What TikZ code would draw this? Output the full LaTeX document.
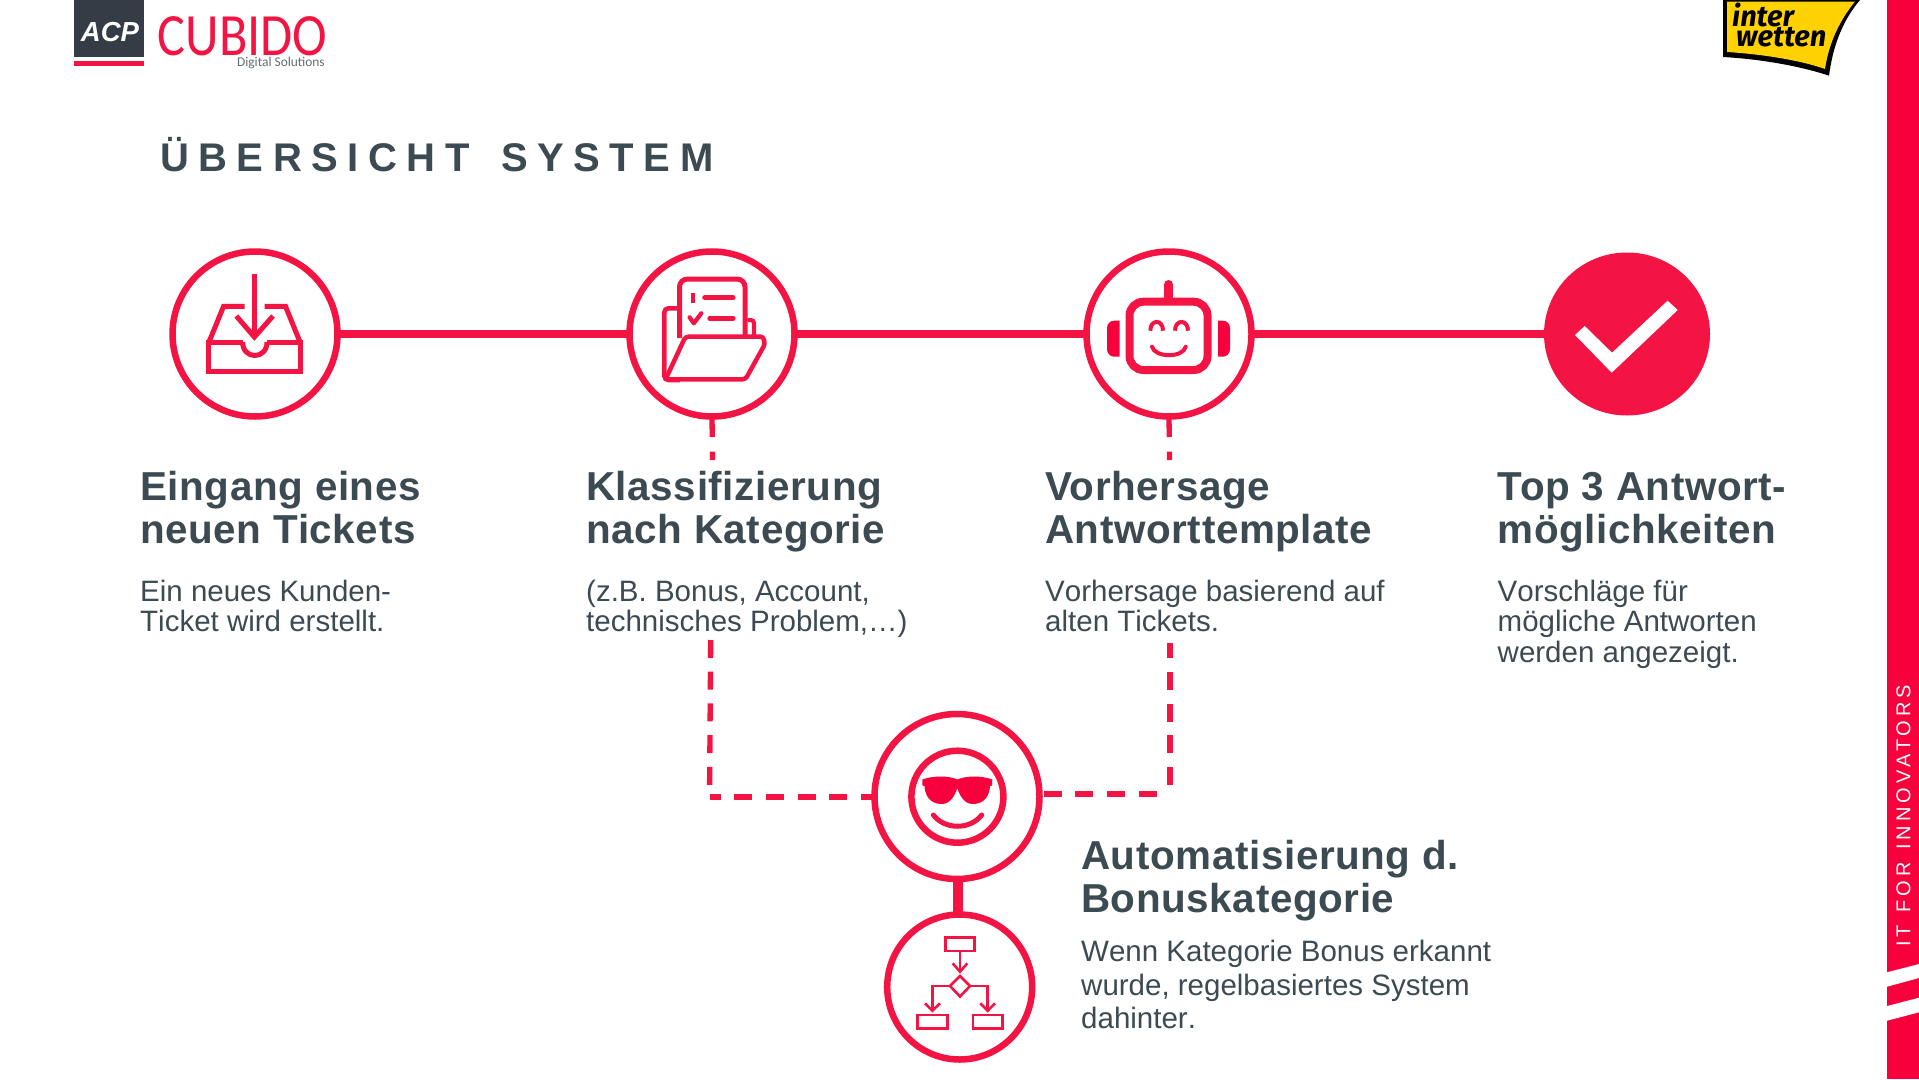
\documentclass[tikz,border=0pt]{standalone}
\usepackage{fontspec}
\usetikzlibrary{shapes.geometric}
\setmainfont{Liberation Sans}
\newfontfamily\lgfont{Carlito}
\newfontfamily\lgfontb{Fira Sans}
\definecolor{acred}{HTML}{F41444}
\definecolor{bandred}{HTML}{F8003C}
\definecolor{slate}{HTML}{3C4A52}
\definecolor{boxdark}{HTML}{343D46}
\definecolor{ywyellow}{HTML}{FFD200}
\tikzset{
  ring/.style={circle,draw=acred,line width=6.5pt,fill=white,inner sep=0pt,outer sep=0pt,minimum size=165pt},
  ringsmall/.style={circle,draw=acred,line width=6.5pt,fill=white,inner sep=0pt,outer sep=0pt,minimum size=145pt},
  donedisc/.style={ellipse,fill=acred,inner sep=0pt,outer sep=0pt,minimum width=166pt,minimum height=163pt},
  solidlink/.style={draw=acred,line width=7.5pt},
  dashlink/.style={draw=acred,line width=5.3pt,dash pattern=on 18pt off 13.7pt},
  stublink/.style={draw=acred,line width=5.3pt,dash pattern=on 20.5pt off 14.7pt},
  headtxt/.style={anchor=north west,inner sep=0pt,align=left,text=slate,font=\fontsize{40.4}{43}\selectfont\bfseries\addfontfeature{LetterSpace=1.5}},
  bodytxt/.style={anchor=north west,inner sep=0pt,align=left,text=slate,font=\fontsize{29.5}{30.8}\selectfont\addfontfeature{Kerning=Off}},
  icon/.style={draw=acred,line width=5pt,fill=none},
  iconthin/.style={draw=acred,line width=2.6pt,fill=none},
}
\begin{document}
\begin{tikzpicture}[x=1pt,y=-1pt]
\useasboundingbox (0,0) rectangle (1919,1079);
\fill[white] (0,0) rectangle (1919,1079);
% right band
\fill[bandred] (1887,0) rectangle (1919,1079);
\fill[white] (1887,972.3) -- (1919,964) -- (1919,978) -- (1887,986.7) -- cycle;
\fill[white] (1887,1006) -- (1919,997.7) -- (1919,1012.3) -- (1887,1020.7) -- cycle;
\node[rotate=90,anchor=west,inner sep=0pt,text=white,font=\fontsize{20}{20}\selectfont\addfontfeature{LetterSpace=20}] (band) at (1903.5,947) {IT\hspace{3pt} FOR\hspace{3pt} INNOVATORS};
% ACP logo
\fill[boxdark] (74.3,0) rectangle (143.7,56.7);
\fill[acred] (74.3,60.7) rectangle (143.7,65.7);
\node[text=white,inner sep=0pt,font=\fontsize{27.5}{28}\selectfont\bfseries\itshape] (acp) at (110,32) {ACP};
\node[text=acred,inner sep=0pt,anchor=base west,text depth=0pt,font=\lgfont\fontsize{60}{60}\selectfont] (cubido) at (157.5,55) {\scalebox{0.87}[1]{CUBIDO}};
\node[text=slate!80,inner sep=0pt,anchor=base east,text height=9pt,font=\lgfont\fontsize{13.4}{14}\selectfont] (digital) at (325,66) {Digital Solutions};
% interwetten logo
\fill[black] (1723,0) -- (1723,57) .. controls (1760,59) and (1800,66) .. (1829,75.7) .. controls (1833,45) and (1843,20) .. (1860,0) -- cycle;
\fill[ywyellow] (1727,1.5) -- (1727,52) .. controls (1760,54) and (1800,60) .. (1825,69) .. controls (1829,42) and (1840,20) .. (1855,1.5) -- cycle;
\node[text=black,inner sep=0pt,anchor=base west,text depth=0pt,font=\lgfontb\fontsize{29}{29}\selectfont\bfseries\itshape] (inter) at (1732,26) {inter};
\node[text=black,inner sep=0pt,anchor=base west,text height=18pt,font=\lgfontb\fontsize{29}{29}\selectfont\bfseries\itshape] (wetten) at (1736,46) {wetten};
% title
\node[anchor=base west,inner sep=0pt,text=slate,font=\fontsize{40}{40}\selectfont\bfseries\addfontfeature{LetterSpace=23.8}] (title) at (160,171) {ÜBERSICHT\hspace{11pt} SYSTEM};
% connector free ends
\coordinate (d2a) at (712.5,460);
\coordinate (d2b) at (710.7,640);
\coordinate (d2c) at (709.5,797);
\coordinate (d3a) at (1169.5,460);
\coordinate (d3b) at (1170,643);
\coordinate (d3c) at (1170,794);
% circles
\node[ring] (c1) at (255,334) {};
\node[ring] (c2) at (712,334) {};
\node[ring] (c3) at (1169,334) {};
\node[donedisc] (c4) at (1627,334) {};
\node[ring] (c5) at (957,796.5) {};
\node[ringsmall] (c6) at (959.7,987) {};
\draw[solidlink] (c1) -- (c2);
\draw[solidlink] (c2) -- (c3);
\draw[solidlink] (c3) -- (c4);
\draw[solidlink,line width=9.5pt] ([xshift=1pt]c5.south) -- ([xshift=-1.7pt]c6.north);
\draw[stublink] (c2.south) -- (d2a);
\draw[stublink] (c3.south) -- (d3a);
\draw[dashlink] (d2b) -- (d2c);
\draw[dashlink,dash phase=7pt] (d2c) -- (c5.west |- d2c);
\draw[dashlink,dash phase=2.7pt] (d3b) -- (d3c);
\draw[dashlink,dash phase=18.4pt] (d3c) -- (c5.east |- d3c);
% inbox icon
\draw[icon,line cap=butt] (254.4,274) -- (254.4,334);
\draw[icon,miter limit=6] (236.3,316) -- (254.4,337) -- (273,316);
\draw[icon] (244.7,306.3) -- (223.6,306.3) -- (209,342);
\draw[icon] (264.5,306.3) -- (285.5,306.3) -- (300,342);
\draw[icon] (242.6,342) -- (208.5,342) -- (208.5,371.5) -- (300.5,371.5) -- (300.5,342) -- (267,342);
\draw[icon] (242.6,342) .. controls (242.6,360) and (267,360) .. (267,342);
% folder icon
\draw[icon,line width=4.5pt,rounded corners=4pt] (677.4,308.3) -- (664.3,308.3) -- (664.3,380) -- (680,380);
\draw[icon,line width=4pt,rounded corners=3pt] (747.6,320) -- (754,320) -- (754,337);
\draw[icon,rounded corners=8pt] (679.5,338) -- (679.5,279) -- (745,279) -- (745,338);
\fill[acred] (690.5,292.5) rectangle (695,302.5);
\draw[icon,line cap=round,line width=5pt] (704.7,297.7) -- (733,297.7);
\draw[icon,line cap=round,line join=round,line width=4.2pt] (689.6,317.3) -- (693.8,323.3) -- (701.3,313.3);
\draw[icon,line cap=round] (709.8,318.3) -- (733,318.3);
\draw[icon,line width=4.5pt,line join=round,rounded corners=3pt] (685.4,336.7) -- (763,336.5) -- (765,344) -- (745.5,379.3) -- (665.6,379.3) -- cycle;
% robot icon
\draw[icon,line width=8pt,rounded corners=14pt] (1129.5,301.7) rectangle (1207.5,370);
\draw[icon,line width=9pt,line cap=round] (1168.5,297) -- (1168.5,284.5);
\fill[bandred] (1119.7,320.7) -- (1119.7,356.7) -- (1114,356.7) .. controls (1110,356.7) and (1107,353) .. (1107,349) -- (1107,328) .. controls (1107,324) and (1110,320.7) .. (1114,320.7) -- cycle;
\fill[bandred] (1218,320.7) -- (1218,356.7) -- (1223,356.7) .. controls (1227,356.7) and (1230,353) .. (1230,349) -- (1230,328) .. controls (1230,324) and (1227,320.7) .. (1223,320.7) -- cycle;
\draw[icon,line width=4pt] (1150.3,330.7) .. controls (1150.3,319) and (1163,319) .. (1163,330.7);
\draw[icon,line width=4pt] (1175,330.7) .. controls (1175,319) and (1188,319) .. (1188,330.7);
\draw[icon,line width=4pt,line cap=round] (1152,346.7) .. controls (1155,358) and (1183,358) .. (1185.7,346.7);
% check
\fill[white] (1575,335) -- (1584.7,326) -- (1612,352.7) -- (1667.6,300.7) -- (1677.7,310) -- (1611.7,372.7) -- cycle;
% smiley
\node[circle,draw=acred,line width=6.5pt,inner sep=0pt,outer sep=0pt,minimum size=92pt] (face) at (957.4,796.7) {};
\draw[icon,line cap=round] (933.3,815) .. controls (945,830) and (970,830) .. (981.7,815);
\fill[bandred] (922.3,779.5) .. controls (935,775) and (950,776) .. (957.3,779.5) .. controls (965,776) and (980,775) .. (992.3,779.5) -- (992,785.5) -- (990,786) .. controls (989,801) and (979.5,804) .. (972.5,804) .. controls (964.5,804) and (959.5,795.5) .. (957.3,788) .. controls (955,795.5) and (950,804) .. (942,804) .. controls (935,804) and (925.5,801) .. (924.5,786) -- (922.5,785.5) -- cycle;
% flow icon
\draw[iconthin] (945.3,937.5) rectangle (974.7,951);
\draw[iconthin] (960,951) -- (960,971);
\draw[iconthin] (952.7,963.3) -- (960,971.7) -- (967.3,963.3);
\draw[iconthin] (960,976) -- (970,986) -- (960,996.5) -- (950,986) -- cycle;
\draw[iconthin] (950,986) -- (932.3,986) -- (932.3,1010);
\draw[iconthin] (925,1003.3) -- (932.3,1010.7) -- (940,1003.3);
\draw[iconthin] (970,986) -- (987.7,986) -- (987.7,1010);
\draw[iconthin] (980.3,1003.3) -- (987.7,1010.7) -- (995,1003.3);
\draw[iconthin] (917.7,1015) rectangle (947.3,1028.5);
\draw[iconthin] (973,1015) rectangle (1002.3,1028.5);
% text
\node[headtxt] (h1) at (140,471.5) {Eingang eines\\neuen Tickets};
\node[bodytxt] (b1) at (140,579.5) {Ein neues Kunden-\\Ticket wird erstellt.};
\node[headtxt] (h2) at (586,471.5) {Klassifizierung\\nach Kategorie};
\node[bodytxt] (b2) at (586,579.5) {(z.B. Bonus, Account,\\technisches Problem,\dots)};
\node[headtxt] (h3) at (1045,471.5) {Vorhersage\\Antworttemplate};
\node[bodytxt] (b3) at (1045,579.5) {Vorhersage basierend auf\\alten Tickets.};
\node[headtxt] (h4) at (1497.5,472.5) {Top 3 Antwort-\\möglichkeiten};
\node[bodytxt] (b4) at (1497.5,579.5) {Vorschläge für\\mögliche Antworten\\werden angezeigt.};
\node[headtxt] (h5) at (1081,840) {Automatisierung d.\\Bonuskategorie};
\node[bodytxt,font=\fontsize{29.5}{33.6}\selectfont\addfontfeature{Kerning=Off}] (b5) at (1081,940) {Wenn Kategorie Bonus erkannt\\wurde, regelbasiertes System\\dahinter.};
\end{tikzpicture}
\end{document}
